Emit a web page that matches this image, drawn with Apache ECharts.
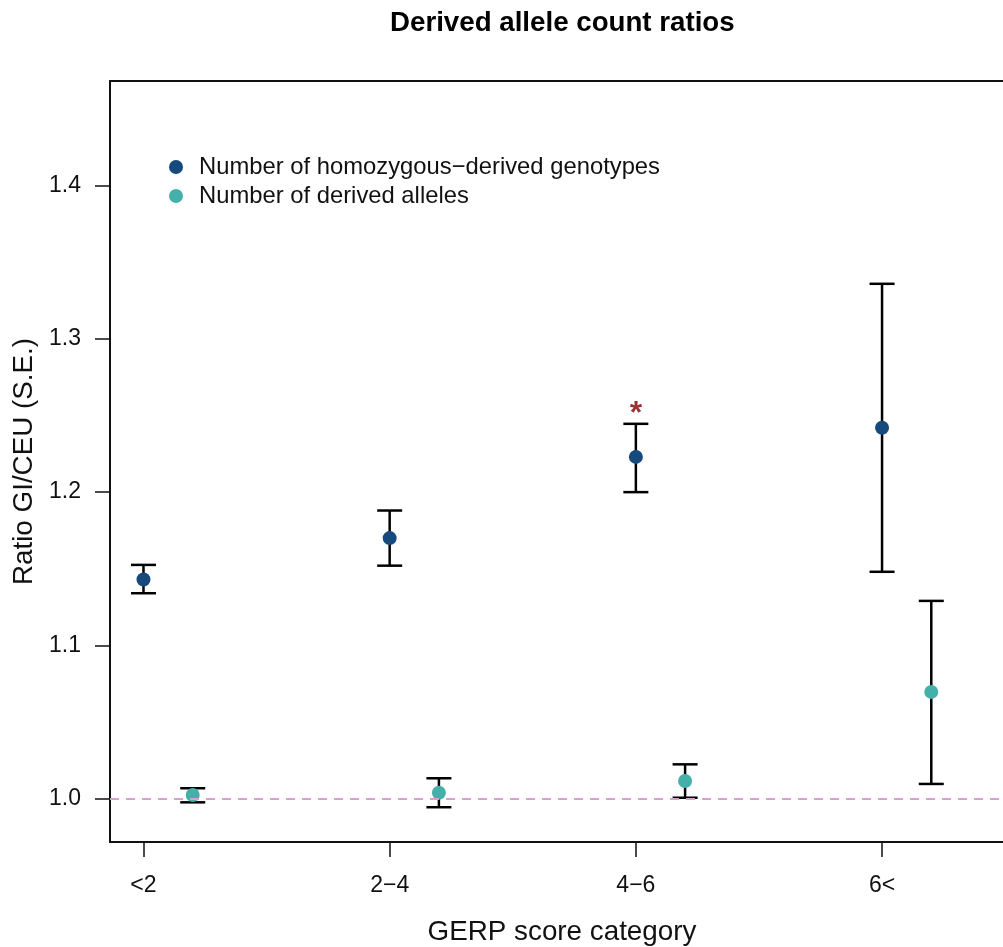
<!DOCTYPE html>
<html style="height: 100%">
<head>
    <meta charset="utf-8">
    <title>Derived allele count ratios</title>
    <script src="https://cdn.jsdelivr.net/npm/echarts@6/dist/echarts.min.js"></script>
</head>
<body style="height: 100%; margin: 0; background: #fff">
    <div id="main" style="width: 1003px; height: 947px"></div>
    <script>
        // GERP score categories (x positions 1..4)
        var categories = ['<2', '2\u22124', '4\u22126', '6<'];
        var catPos = [1, 2, 3, 4];
        var alleleShift = 0.2; // derived-allele points sit a little to the right

        // number of homozygous-derived genotypes: ratio and S.E. range
        var homoRatio = [1.143, 1.170, 1.223, 1.242];
        var homoLow   = [1.134, 1.152, 1.200, 1.148];
        var homoHigh  = [1.1525, 1.188, 1.2446, 1.336];

        // number of derived alleles: ratio and S.E. range
        var alleleRatio = [1.0023, 1.0038, 1.0114, 1.0696];
        var alleleLow   = [0.9975, 0.9943, 1.0005, 1.0095];
        var alleleHigh  = [1.0067, 1.0132, 1.0223, 1.129];

        // significance star above 4-6
        var starCat = 3;
        var starValue = 1.2549;

        var yTicks = [1.0, 1.1, 1.2, 1.3, 1.4];

        var homoName = 'Number of homozygous\u2212derived genotypes';
        var alleleName = 'Number of derived alleles';
        var font = 'Liberation Sans, Arial, Helvetica, sans-serif';
        var xMin = 0.864, xMax = 4.536;

        function errorBar(params, api) {
            var x = api.value(0);
            var lo = api.coord([x, api.value(1)]);
            var hi = api.coord([x, api.value(2)]);
            var half = 12.5;
            var st = { stroke: '#000', lineWidth: 2.5 };
            return {
                type: 'group',
                children: [
                    { type: 'line', shape: { x1: lo[0], y1: lo[1], x2: hi[0], y2: hi[1] }, style: st },
                    { type: 'line', shape: { x1: lo[0] - half, y1: lo[1], x2: lo[0] + half, y2: lo[1] }, style: st },
                    { type: 'line', shape: { x1: hi[0] - half, y1: hi[1], x2: hi[0] + half, y2: hi[1] }, style: st }
                ]
            };
        }

        var homoPts = catPos.map(function (p, i) { return [p, homoRatio[i]]; });
        var allelePts = catPos.map(function (p, i) { return [p + alleleShift, alleleRatio[i]]; });
        var barData = catPos.map(function (p, i) { return [p, homoLow[i], homoHigh[i]]; })
            .concat(catPos.map(function (p, i) { return [p + alleleShift, alleleLow[i], alleleHigh[i]]; }));

        var axisLineStyle = { color: '#111', width: 2 };

        var myChart = echarts.init(document.getElementById('main'));
        myChart.setOption({
            animation: false,
            backgroundColor: '#fff',
            title: {
                text: 'Derived allele count ratios',
                left: 390,
                top: 9,
                padding: 0,
                textStyle: { fontFamily: font, fontSize: 27.7, fontWeight: 'bold', color: '#000' }
            },
            legend: {
                left: 169,
                top: 155,
                orient: 'vertical',
                icon: 'circle',
                itemWidth: 36,
                itemHeight: 14,
                itemGap: 5,
                padding: 0,
                data: [homoName, alleleName],
                textStyle: { fontFamily: font, fontSize: 23.8, color: '#111' }
            },
            grid: {
                left: 110,
                right: -11,
                top: 81,
                bottom: 105,
                outerBoundsMode: 'none'
            },
            xAxis: [{
                type: 'value',
                min: xMin,
                max: xMax,
                name: 'GERP score category',
                nameLocation: 'middle',
                nameGap: 76,
                nameTextStyle: { fontFamily: font, fontSize: 27.8, color: '#111' },
                axisLine: { show: true, onZero: false, lineStyle: axisLineStyle },
                axisTick: { show: true, length: 15, customValues: catPos, lineStyle: { color: '#111', width: 1.5 } },
                axisLabel: {
                    customValues: catPos,
                    margin: 32,
                    fontFamily: font, fontSize: 23, color: '#111',
                    formatter: function (v) { return categories[Math.round(v) - 1]; }
                },
                splitLine: { show: false }
            }, {
                // top edge of the box only
                type: 'value',
                position: 'top',
                min: xMin,
                max: xMax,
                axisLine: { show: true, onZero: false, lineStyle: axisLineStyle },
                axisTick: { show: false },
                axisLabel: { show: false },
                splitLine: { show: false }
            }],
            yAxis: {
                type: 'value',
                min: 0.9716,
                max: 1.4684,
                name: 'Ratio GI/CEU (S.E.)',
                nameLocation: 'middle',
                nameGap: 59,
                nameTextStyle: { fontFamily: font, fontSize: 27.8, color: '#111' },
                axisLine: { show: true, onZero: false, lineStyle: axisLineStyle },
                axisTick: { show: true, length: 15, customValues: yTicks, lineStyle: { color: '#111', width: 1.5 } },
                axisLabel: {
                    customValues: yTicks,
                    margin: 29,
                    fontFamily: font, fontSize: 23, color: '#111',
                    formatter: function (v) { return v.toFixed(1); }
                },
                splitLine: { show: false }
            },
            series: [
                {
                    type: 'custom',
                    renderItem: errorBar,
                    data: barData,
                    z: 2,
                    silent: true,
                    markLine: {
                        silent: true,
                        symbol: 'none',
                        label: { show: false },
                        lineStyle: { color: '#d9a0cb', type: [9, 7], width: 2 },
                        data: [{ yAxis: 1.0 }]
                    }
                },
                {
                    name: homoName,
                    type: 'scatter',
                    symbolSize: 14,
                    itemStyle: { color: '#174a7c', opacity: 1 },
                    data: homoPts,
                    z: 3
                },
                {
                    name: alleleName,
                    type: 'scatter',
                    symbolSize: 14,
                    itemStyle: { color: '#45b0aa', opacity: 1 },
                    data: allelePts,
                    z: 3
                },
                {
                    type: 'scatter',
                    symbolSize: 0,
                    data: [[starCat, starValue]],
                    label: {
                        show: true,
                        position: 'inside',
                        offset: [0, 6],
                        formatter: '*',
                        fontFamily: font, fontSize: 32, fontWeight: 'bold', color: '#800000'
                    },
                    z: 4
                }
            ]
        });
    </script>
</body>
</html>
